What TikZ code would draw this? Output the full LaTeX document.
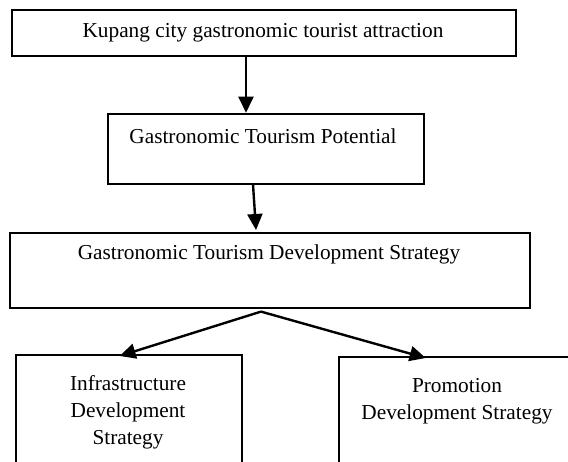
\documentclass[tikz,border=0pt]{standalone}
\usepackage{fontspec}
\setmainfont{Liberation Serif}
\usetikzlibrary{arrows.meta,calc}
\tikzset{
  boxnode/.style={draw=black, line width=1.8pt, rectangle, inner sep=0pt, anchor=north west},
  txt/.style={inner sep=0pt, align=center, font=\fontsize{21.3}{27}\selectfont},
  arr/.style={line width=2.4pt, -{Triangle[length=16pt,width=15pt]}}
}
\begin{document}
\begin{tikzpicture}[x=1pt,y=-1pt]
\useasboundingbox (0,0) rectangle (568,461);
\clip (0,0) rectangle (568,461);
\fill[white] (0,0) rectangle (568,461);
% boxes
\node[boxnode, minimum width=504pt, minimum height=45.5pt] (b1) at (11,9.3) {};
\node[boxnode, minimum width=316pt, minimum height=70pt] (b2) at (107,112.7) {};
\node[boxnode, minimum width=520pt, minimum height=75.6pt] (b3) at (9,231.7) {};
\node[boxnode, minimum width=226pt, minimum height=130pt] (b4) at (15,354) {};
\node[boxnode, minimum width=320pt, minimum height=130pt] (b5) at (338,355.7) {};
% texts
\node[txt] (t1) at (263,33) {Kupang city gastronomic tourist attraction};
\node[txt] (t2) at (263,136) {Gastronomic Tourism Potential};
\node[txt] (t3) at (269,254) {Gastronomic Tourism Development Strategy};
\node[txt] (t4) at (128,412) {Infrastructure\\Development\\Strategy};
\node[txt] (t5) at (457,401) {Promotion\\Development Strategy};
% connectors
\coordinate (s3) at (261,311.6);
\coordinate (e4) at (119.6,356);
\coordinate (e5) at (425.7,358);
\draw[arr] (b1.south -| 246,0) -- (b2.north -| 246,0);
\draw[arr] ($(b2.south -| 253,0)$) -- (256,230);
\draw[arr] (s3) -- (e4);
\draw[arr] (s3) -- (e5);
\end{tikzpicture}
\end{document}
